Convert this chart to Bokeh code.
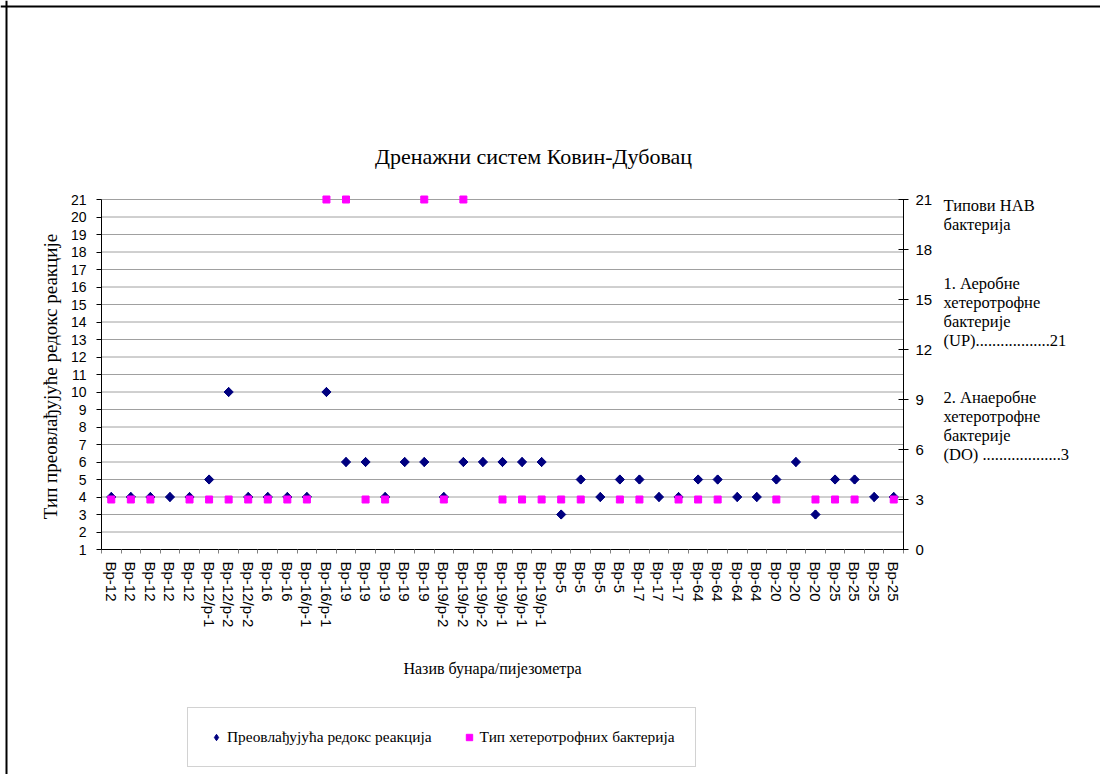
import math
import numpy as np
from bokeh.plotting import figure
from bokeh.models import (Range1d, LinearAxis, FixedTicker, Legend,
                          LegendItem, Label, Span)
from bokeh.embed import file_html
from bokeh.resources import INLINE

# ---------------- data ----------------
categories = [
    "Вр-12", "Вр-12", "Вр-12", "Вр-12", "Вр-12",
    "Вр-12/р-1", "Вр-12/р-2", "Вр-12/р-2",
    "Вр-16", "Вр-16", "Вр-16/р-1", "Вр-16/р-1",
    "Вр-19", "Вр-19", "Вр-19", "Вр-19", "Вр-19",
    "Вр-19/р-2", "Вр-19/р-2", "Вр-19/р-2",
    "Вр-19/р-1", "Вр-19/р-1", "Вр-19/р-1",
    "Вр-5", "Вр-5", "Вр-5", "Вр-5",
    "Вр-17", "Вр-17", "Вр-17",
    "Вр-64", "Вр-64", "Вр-64", "Вр-64",
    "Вр-20", "Вр-20", "Вр-20",
    "Вр-25", "Вр-25", "Вр-25", "Вр-25",
]
redox = [4, 4, 4, 4, 4, 5, 10, 4, 4, 4, 4, 10, 6, 6, 4, 6, 6, 4, 6, 6,
         6, 6, 6, 3, 5, 4, 5, 5, 4, 4, 5, 5, 4, 4, 5, 6, 3, 5, 5, 4, 4]
bacteria = [3, 3, 3, None, 3, 3, 3, 3, 3, 3, 3, 21, 21, 3, 3, None, 21, 3, 21, None,
            3, 3, 3, 3, 3, None, 3, 3, None, 3, 3, 3, None, None, 3, None, 3, 3, 3, None, 3]
left_ticks = list(range(1, 22))
right_ticks = [0, 3, 6, 9, 12, 15, 18, 21]

title_text = "Дренажни систем Ковин-Дубовац"
y_title = "Тип преовлађујуће редокс реакције"
x_title = "Назив бунара/пијезометра"
series_names = ["Преовлађујућа редокс реакција", "Тип хетеротрофних бактерија"]
note_groups = [
    ["Типови НАВ", "бактерија"],
    ["1. Аеробне", "хетеротрофне", "бактерије", "(UP)..................21"],
    ["2. Анаеробне", "хетеротрофне", "бактерије", "(DO) ...................3"],
]

# ---------------- layout (pixels on the canvas) ----------------
W, H = 1100, 774
PL, PR, PT, PB = 101, 903, 199, 549      # plot area edges

n = len(categories)
xs = [i + 1 for i in range(n)]
bact = [np.nan if v is None else v for v in bacteria]

XA, XB = 0.5, n + 0.5                      # x data at PL / PR
LA, LB = left_ticks[0], left_ticks[-1]     # left data at PB / PT
RA, RB = right_ticks[0], right_ticks[-1]   # right data at PB / PT

def lin(a, b, pa, pb, p0, p1):
    k = (b - a) / (pb - pa)
    return a + (p0 - pa) * k, a + (p1 - pa) * k

x0, x1 = lin(XA, XB, PL, PR, 0, W)
y0, y1 = lin(LA, LB, PB, PT, H, 0)
r0, r1_ = lin(RA, RB, PB, PT, H, 0)

def dx(px):
    return XA + (px - PL) * (XB - XA) / (PR - PL)

def dy(py):
    return LA + (PB - py) * (LB - LA) / (PB - PT)

SERIF = "Liberation Serif"
SANS = "Liberation Sans"
NAVY = "#000080"
PINK = "#FF00FF"

p = figure(width=W, height=H, output_backend="svg", toolbar_location=None,
           title=None,
           x_range=Range1d(x0, x1), y_range=Range1d(y0, y1),
           x_axis_type=None, y_axis_type=None, min_border=0)
p.outline_line_color = None
p.background_fill_color = "white"
p.border_fill_color = "white"
p.extra_y_ranges = {"bact": Range1d(r0, r1_)}

# chart-area border (left and top edges)
p.add_layout(Span(location=dx(6), dimension="height", line_color="black", line_width=2))
p.add_layout(Span(location=dy(6), dimension="width", line_color="black", line_width=2))

# horizontal grid lines at the left-axis ticks
p.segment(x0=[XA] * len(left_ticks), x1=[XB] * len(left_ticks),
          y0=left_ticks, y1=left_ticks, line_color="#A0A0A0", line_width=1)

# x axis
xaxis = LinearAxis(ticker=FixedTicker(ticks=xs, minor_ticks=[x - 0.5 for x in xs] + [n + 0.5]),
                   fixed_location=LA, bounds=(XA, XB))
xaxis.major_label_overrides = {x: c for x, c in zip(xs, categories)}
xaxis.major_label_orientation = "vertical"
xaxis.major_tick_out = 0
xaxis.major_tick_in = 0
xaxis.minor_tick_out = 4
xaxis.minor_tick_in = 0
xaxis.minor_tick_line_color = "#808080"
xaxis.axis_line_color = "black"
xaxis.major_label_standoff = 8
xaxis.major_label_text_font = SANS
xaxis.major_label_text_font_size = "15px"
xaxis.major_label_text_color = "black"
p.add_layout(xaxis, "below")

# left axis
yaxis = LinearAxis(ticker=FixedTicker(ticks=left_ticks), fixed_location=XA, bounds=(LA, LB))
yaxis.major_tick_out = 5
yaxis.major_tick_in = 0
yaxis.minor_tick_line_color = None
yaxis.axis_line_color = "black"
yaxis.major_label_standoff = 10
yaxis.major_label_text_font = SANS
yaxis.major_label_text_font_size = "14px"
yaxis.major_label_text_color = "black"
p.add_layout(yaxis, "left")

# right axis
raxis = LinearAxis(y_range_name="bact", ticker=FixedTicker(ticks=right_ticks),
                   fixed_location=XB, bounds=(RA, RB))
raxis.major_tick_out = 5
raxis.major_tick_in = 5
raxis.minor_tick_line_color = None
raxis.axis_line_color = "black"
raxis.major_label_standoff = 7
raxis.major_label_text_font = SANS
raxis.major_label_text_font_size = "15px"
raxis.major_label_text_color = "black"
p.add_layout(raxis, "right")

# diamonds: a "diamond" marker (used for the legend glyph) under a 45° square
r1_shape = p.scatter(xs, redox, marker="diamond", size=9,
                     fill_color=NAVY, line_color=NAVY)
r1 = p.scatter(xs, redox, marker="square", angle=math.pi / 4, size=6.5,
               fill_color=NAVY, line_color=NAVY)
r2 = p.scatter(xs, bact, marker="square", size=7, fill_color=PINK,
               line_color=PINK, y_range_name="bact")

# series legend
legend = Legend(items=[LegendItem(label=series_names[0], renderers=[r1_shape]),
                       LegendItem(label=series_names[1], renderers=[r2])],
                location=(187, H - 767), orientation="horizontal",
                label_text_font=SERIF, label_text_font_size="15.4px",
                label_text_color="black",
                border_line_color="#A6A6A6", border_line_width=1,
                padding=20, spacing=29, glyph_width=16, glyph_height=18,
                label_standoff=3, margin=0, background_fill_color="white",
                background_fill_alpha=1)
p.add_layout(legend, "center")

# texts
def add_text(px, py, text, size, align="left", angle=0.0):
    p.add_layout(Label(x=dx(px), y=dy(py), text=text, text_font=SERIF,
                       text_font_size=size, text_align=align, angle=angle,
                       text_baseline="middle", text_color="black"))

add_text(533, 156, title_text, "22px", "center")
add_text(492, 668, x_title, "16px", "center")
add_text(50, 376, y_title, "19px", "center", math.pi / 2)

note_y = [[205, 224], [283, 302, 321, 340], [397, 416, 435, 454]]
for group, ys in zip(note_groups, note_y):
    for t, yy in zip(group, ys):
        add_text(943, yy, t, "16.5px")

open("out.html", "w").write(file_html(p, INLINE))
